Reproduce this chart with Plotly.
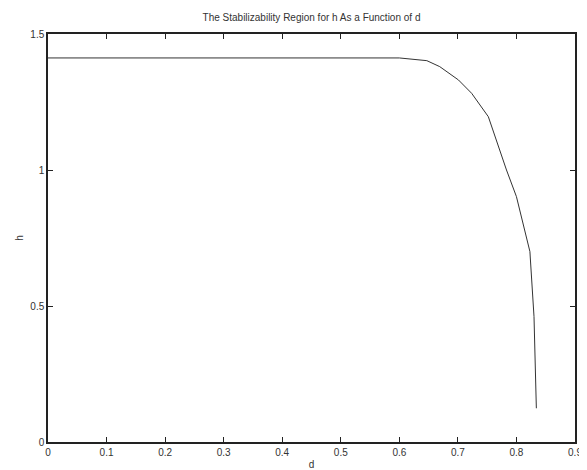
import plotly.graph_objects as go

d_vals = [0.0, 0.1, 0.2, 0.3, 0.4, 0.5, 0.6, 0.647, 0.669, 0.701, 0.7235, 0.752, 0.783, 0.800, 0.823, 0.830, 0.834]
h_vals = [1.412, 1.412, 1.412, 1.412, 1.412, 1.412, 1.412, 1.402, 1.380, 1.331, 1.282, 1.196, 1.000, 0.902, 0.700, 0.461, 0.124]

x_ticks = [0, 0.1, 0.2, 0.3, 0.4, 0.5, 0.6, 0.7, 0.8, 0.9]
x_ticklabels = ["0", "0.1", "0.2", "0.3", "0.4", "0.5", "0.6", "0.7", "0.8", "0.9"]
y_ticks = [0, 0.5, 1, 1.5]
y_ticklabels = ["0", "0.5", "1", "1.5"]

fig = go.Figure()
fig.add_trace(go.Scatter(x=d_vals, y=h_vals, mode="lines",
                         line=dict(color="#333333", width=1), showlegend=False))

font = dict(family="Liberation Sans, Arial, sans-serif", size=10, color="#333333")
axis_common = dict(showgrid=False, zeroline=False, showline=True, linecolor="#222222",
                   linewidth=1.5, mirror="ticks", ticks="inside", ticklen=5,
                   tickcolor="#222222", tickwidth=1, tickfont=font, automargin=False,
                   ticklabeloverflow="allow")

fig.update_layout(
    width=579, height=462,
    margin=dict(l=40, r=12, t=26, b=28),
    paper_bgcolor="white", plot_bgcolor="white",
    title=dict(text="The Stabilizability Region for h As a Function of d",
               x=0.5, xref="paper", xanchor="center", y=1, yref="paper",
               yanchor="bottom", pad=dict(b=13), automargin=False,
               font=dict(family="Liberation Sans, Arial, sans-serif", size=10, color="#333333")),
    xaxis=dict(range=[0, 0.9], tickvals=x_ticks, ticktext=x_ticklabels,
               title=dict(text="d", font=font, standoff=4), **axis_common),
    yaxis=dict(range=[0, 1.5], tickvals=y_ticks, ticktext=y_ticklabels,
               title=dict(text="h", font=font, standoff=5), **axis_common),
)

fig.write_html("out.html")
